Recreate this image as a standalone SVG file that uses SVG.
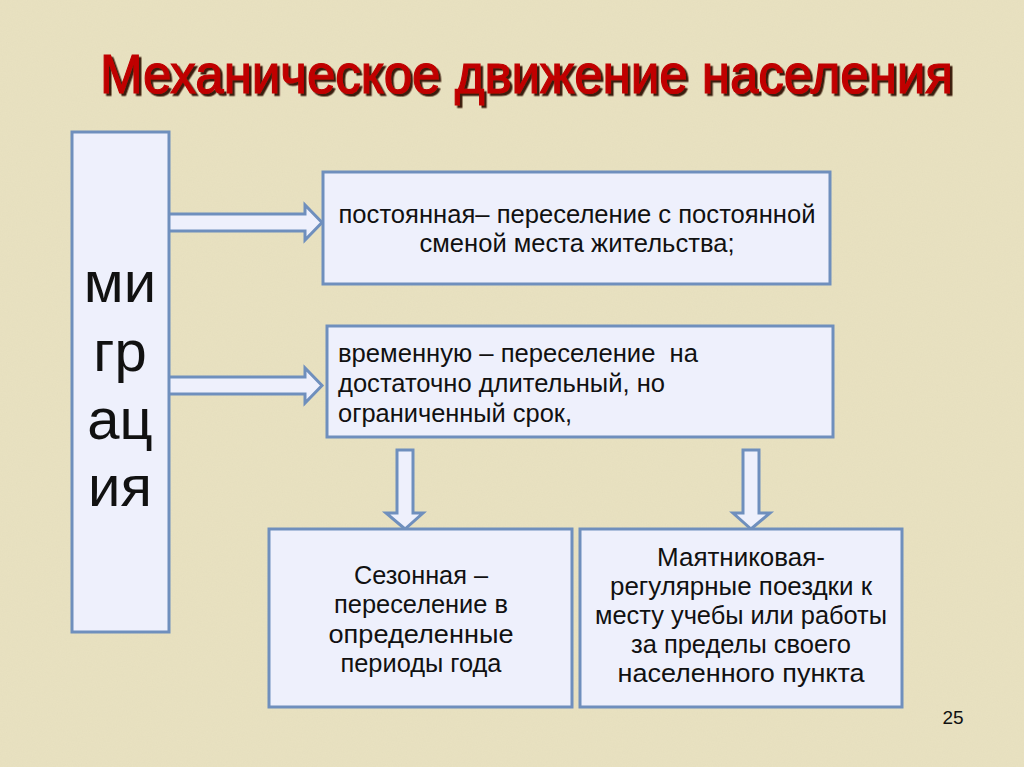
<svg xmlns="http://www.w3.org/2000/svg" width="1024" height="767" viewBox="0 0 1024 767">
  <defs>
    <filter id="grain" x="0" y="0" width="100%" height="100%">
      <feTurbulence type="fractalNoise" baseFrequency="0.8" numOctaves="2" seed="3" result="n"/>
      <feColorMatrix in="n" type="matrix" values="0 0 0 0 0.6  0 0 0 0 0.55  0 0 0 0 0.4  0 0 0 0.3 0"/>
    </filter>
    <filter id="shadow" x="-5%" y="-20%" width="110%" height="140%">
      <feDropShadow dx="2.5" dy="2.5" stdDeviation="0.4" flood-color="#3a1a10" flood-opacity="1"/>
    </filter>
  </defs>
  <style>
    .box { fill: #eef0fc; stroke: #6f8fbd; stroke-width: 3; }
    .arr { fill: #eef0fc; stroke: #6f8fbd; stroke-width: 3; stroke-linejoin: miter; }
    .t { font-family: "Liberation Sans", Arial, sans-serif; font-size: 26px; fill: #111111; }
    .c { text-anchor: middle; }
    .big { font-family: "Liberation Sans", Arial, sans-serif; font-size: 58px; fill: #111111; text-anchor: middle; }
    .title { font-family: "Liberation Sans", Arial, sans-serif; font-size: 55px; stroke-width: 1.2; fill: #c00000; stroke: #c00000; }
  </style>
  <rect x="0" y="0" width="1024" height="767" fill="#e9e2c1"/>
  <rect x="0" y="0" width="1024" height="767" filter="url(#grain)" opacity="0.4"/>

  <g id="title" filter="url(#shadow)">
    <text class="title" x="100" y="93" textLength="853" lengthAdjust="spacingAndGlyphs">Механическое движение населения</text>
  </g>

  <g id="connectors">
    <path class="arr" d="M168,214 H305 V205 L322,222.5 L305,240 V231 H168 Z"/>
    <path class="arr" d="M168,377 H305 V368 L322,385.5 L305,403 V394 H168 Z"/>
    <path class="arr" d="M397,450 H413 V513 H423 L405,529 L386,513 H397 Z"/>
    <path class="arr" d="M743,450 H759 V513 H770 L751,529 L733,513 H743 Z"/>
  </g>

  <g id="migration">
    <rect class="box" x="72" y="132" width="97" height="500"/>
    <text class="big" x="120" y="302">ми</text>
    <text class="big" x="120" y="371">гр</text>
    <text class="big" x="120" y="439">ац</text>
    <text class="big" x="120" y="506">ия</text>
  </g>

  <g id="permanent">
    <rect class="box" x="323" y="172" width="507" height="112"/>
    <text class="t c" x="577" y="223" textLength="477" lengthAdjust="spacingAndGlyphs">постоянная– переселение с постоянной</text>
    <text class="t c" x="577" y="252" textLength="315" lengthAdjust="spacingAndGlyphs">сменой места жительства;</text>
  </g>

  <g id="temporary">
    <rect class="box" x="327" y="326" width="506" height="111"/>
    <text class="t" x="338" y="362" xml:space="preserve" textLength="360" lengthAdjust="spacingAndGlyphs">временную – переселение  на</text>
    <text class="t" x="338" y="392" textLength="327" lengthAdjust="spacingAndGlyphs">достаточно длительный, но</text>
    <text class="t" x="338" y="422" textLength="234" lengthAdjust="spacingAndGlyphs">ограниченный срок,</text>
  </g>

  <g id="seasonal">
    <rect class="box" x="269" y="529" width="303" height="178"/>
    <text class="t c" x="421" y="584" textLength="134" lengthAdjust="spacingAndGlyphs">Сезонная –</text>
    <text class="t c" x="421" y="613" textLength="174" lengthAdjust="spacingAndGlyphs">переселение в</text>
    <text class="t c" x="421" y="643" textLength="185" lengthAdjust="spacingAndGlyphs">определенные</text>
    <text class="t c" x="421" y="672" textLength="161" lengthAdjust="spacingAndGlyphs">периоды года</text>
  </g>

  <g id="pendulum">
    <rect class="box" x="580" y="529" width="322" height="178"/>
    <text class="t c" x="741" y="566" textLength="168" lengthAdjust="spacingAndGlyphs">Маятниковая-</text>
    <text class="t c" x="741" y="595" textLength="262" lengthAdjust="spacingAndGlyphs">регулярные поездки к</text>
    <text class="t c" x="741" y="624" textLength="292" lengthAdjust="spacingAndGlyphs">месту учебы или работы</text>
    <text class="t c" x="741" y="653" textLength="220" lengthAdjust="spacingAndGlyphs">за пределы своего</text>
    <text class="t c" x="741" y="682" textLength="247" lengthAdjust="spacingAndGlyphs">населенного пункта</text>
  </g>

  <text x="953" y="724" font-family="Liberation Sans, Arial, sans-serif" font-size="19" fill="#111111" text-anchor="middle">25</text>
</svg>
